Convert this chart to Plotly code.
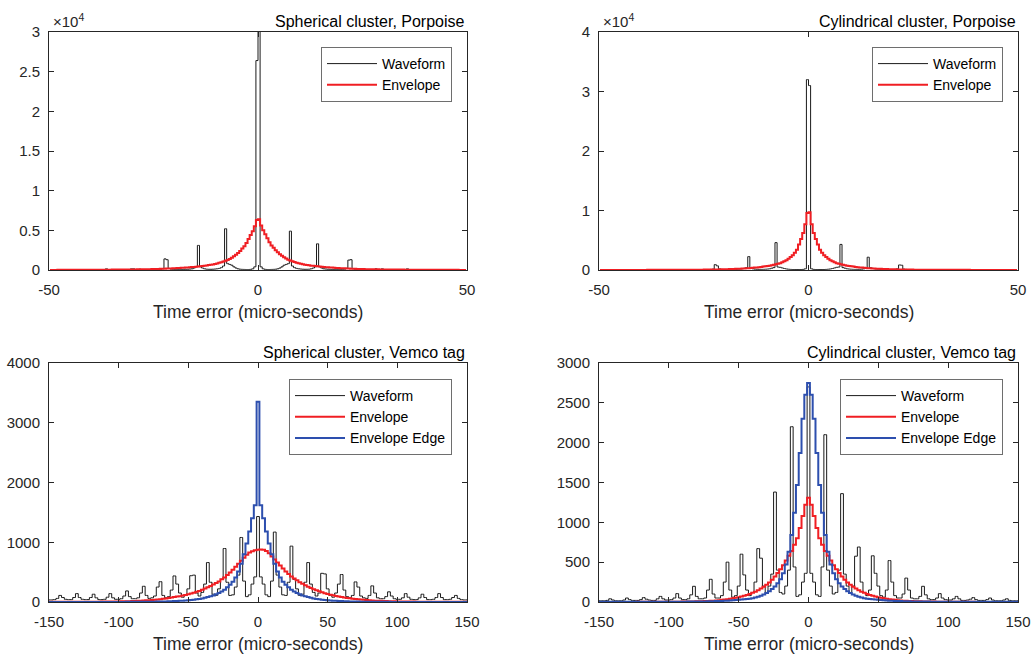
import numpy as np
import plotly.graph_objects as go

# ---------------- data ----------------
# Top row: 0.5 us bins, centres -49.75 .. 49.75
x_top = np.arange(-49.75, 50, 0.5)

sph_porp_wave = [
    10, 10, 10, 10, 10, 10, 10, 10, 10, 10,
    10, 10, 10, 10, 15, 15, 15, 15, 15, 15,
    20, 20, 20, 20, 20, 20, 20, 150, 20, 20,
    25, 25, 25, 25, 25, 25, 30, 30, 30, 150,
    150, 40, 40, 100, 40, 40, 45, 45, 50, 50,
    60, 70, 80, 100, 150, 1400, 1300, 200, 100, 80,
    60, 60, 70, 70, 80, 90, 100, 120, 150, 250,
    400, 3100, 400, 250, 150, 100, 90, 90, 100, 120,
    150, 200, 300, 500, 5200, 800, 700, 600, 400, 250,
    150, 100, 80, 70, 60, 60, 80, 150, 400, 26400,
    30500, 400, 150, 80, 60, 60, 70, 80, 100, 150,
    250, 400, 600, 700, 800, 4900, 500, 300, 200, 150,
    120, 100, 90, 90, 100, 150, 250, 400, 3300, 400,
    250, 150, 120, 100, 90, 80, 70, 70, 60, 60,
    80, 100, 200, 1250, 1300, 150, 100, 80, 70, 60,
    50, 50, 50, 50, 45, 45, 150, 45, 40, 150,
    30, 30, 30, 25, 25, 25, 25, 25, 25, 25,
    20, 150, 20, 20, 20, 20, 20, 20, 20, 20,
    15, 15, 15, 15, 15, 15, 10, 10, 10, 10,
    10, 10, 10, 10, 10, 10, 10, 10, 10, 10,
]
sph_porp_env = [
    12, 13, 14, 15, 16, 17, 18, 19, 20, 21,
    22, 23, 24, 25, 26, 27, 28, 29, 30, 31,
    32, 33, 34, 35, 36, 38, 40, 42, 44, 46,
    48, 50, 52, 54, 56, 58, 60, 62, 65, 68,
    72, 76, 80, 85, 90, 95, 100, 105, 110, 115,
    118, 126, 135, 145, 155, 165, 175, 185, 198, 212,
    225, 240, 255, 270, 290, 310, 330, 350, 370, 390,
    420, 450, 480, 510, 540, 580, 620, 660, 700, 760,
    830, 900, 980, 1060, 1160, 1260, 1400, 1550, 1720, 1920,
    2150, 2400, 2700, 3000, 3400, 3900, 4400, 4900, 5500, 6300,
    6400, 5600, 5000, 4500, 4000, 3500, 3100, 2800, 2500, 2250,
    2000, 1800, 1600, 1450, 1300, 1200, 1100, 1000, 920, 850,
    780, 720, 670, 630, 590, 550, 520, 490, 460, 430,
    400, 380, 360, 340, 320, 300, 280, 265, 250, 235,
    220, 205, 190, 180, 170, 160, 150, 140, 130, 120,
    115, 110, 105, 100, 95, 90, 85, 80, 76, 72,
    68, 65, 62, 60, 58, 56, 54, 52, 50, 48,
    46, 44, 42, 40, 38, 36, 35, 34, 33, 32,
    31, 30, 29, 28, 27, 26, 25, 24, 23, 22,
    21, 20, 19, 18, 17, 16, 15, 14, 13, 12,
]
cyl_porp_wave = [
    10, 10, 10, 10, 10, 10, 10, 10, 10, 10,
    10, 10, 10, 10, 10, 10, 10, 10, 10, 10,
    15, 15, 15, 15, 15, 15, 15, 15, 15, 15,
    20, 20, 20, 20, 20, 20, 25, 25, 25, 25,
    30, 30, 30, 35, 35, 35, 40, 40, 45, 50,
    60, 70, 80, 100, 150, 900, 700, 200, 100, 80,
    70, 70, 80, 90, 100, 110, 130, 160, 200, 300,
    400, 2250, 300, 200, 150, 120, 100, 100, 110, 130,
    160, 200, 300, 400, 4600, 500, 450, 350, 250, 180,
    130, 100, 80, 70, 60, 60, 70, 100, 200, 32000,
    31000, 200, 100, 70, 60, 60, 70, 80, 100, 130,
    180, 250, 350, 450, 500, 4300, 400, 300, 200, 160,
    130, 110, 100, 100, 120, 150, 200, 300, 2150, 400,
    300, 200, 160, 130, 110, 100, 90, 80, 70, 70,
    80, 100, 200, 850, 800, 150, 100, 80, 70, 60,
    50, 45, 40, 40, 35, 35, 35, 30, 30, 30,
    25, 25, 25, 25, 20, 20, 20, 20, 20, 20,
    15, 15, 15, 15, 15, 15, 15, 15, 15, 15,
    10, 10, 10, 10, 10, 10, 10, 10, 10, 10,
    10, 10, 10, 10, 10, 10, 10, 10, 10, 10,
]
cyl_porp_env = [
    10, 10, 10, 10, 11, 11, 12, 12, 13, 13,
    14, 14, 15, 15, 16, 16, 17, 17, 18, 18,
    19, 20, 21, 22, 23, 24, 25, 26, 27, 28,
    29, 30, 31, 32, 33, 34, 35, 36, 37, 38,
    40, 42, 44, 46, 48, 50, 52, 55, 58, 60,
    65, 70, 75, 80, 85, 90, 95, 100, 110, 120,
    130, 140, 150, 165, 180, 195, 210, 230, 250, 270,
    290, 310, 340, 370, 400, 440, 480, 520, 570, 620,
    670, 730, 800, 870, 950, 1050, 1150, 1300, 1450, 1650,
    1900, 2200, 2500, 2900, 3400, 4300, 5200, 6200, 7700, 9600,
    9700, 7700, 6200, 5200, 4300, 3400, 2900, 2500, 2200, 1900,
    1650, 1450, 1300, 1150, 1050, 950, 870, 800, 730, 670,
    620, 570, 520, 480, 440, 400, 370, 340, 310, 290,
    270, 250, 230, 210, 195, 180, 165, 150, 140, 130,
    120, 110, 100, 95, 90, 85, 80, 75, 70, 65,
    60, 58, 55, 52, 50, 48, 46, 44, 42, 40,
    38, 37, 36, 35, 34, 33, 32, 31, 30, 29,
    28, 27, 26, 25, 24, 23, 22, 21, 20, 19,
    18, 18, 17, 17, 16, 16, 15, 15, 14, 14,
    13, 13, 12, 12, 11, 11, 10, 10, 10, 10,
]

# Bottom row: 2 us bins, centres -150 .. 150
x_bot = np.arange(-150, 151, 2)

sph_vem_wave = [
    35, 35, 40, 60, 110, 75, 45, 40, 40, 75,
    140, 75, 45, 40, 40, 75, 130, 70, 40, 40,
    45, 80, 140, 70, 45, 45, 55, 100, 185, 90,
    55, 55, 70, 150, 263, 110, 60, 70, 100, 250,
    340, 110, 70, 90, 200, 436, 300, 150, 80, 110,
    220, 440, 450, 150, 100, 160, 300, 660, 330, 130,
    110, 220, 380, 895, 330, 110, 120, 250, 450, 1080,
    350, 90, 120, 300, 420, 1430, 420, 300, 120, 90,
    350, 1170, 450, 250, 120, 110, 330, 935, 380, 220,
    110, 130, 330, 660, 300, 160, 100, 150, 480, 470,
    220, 110, 80, 150, 300, 460, 200, 90, 70, 110,
    336, 250, 100, 70, 60, 110, 270, 150, 70, 55,
    55, 90, 170, 100, 55, 45, 45, 70, 140, 80,
    45, 40, 40, 70, 130, 75, 40, 40, 45, 75,
    140, 75, 40, 40, 45, 75, 110, 60, 40, 35,
    35,
]
sph_vem_env = [
    3, 3, 3, 3, 3, 3, 3, 4, 4, 4,
    4, 4, 5, 5, 5, 5, 6, 6, 6, 7,
    7, 8, 8, 9, 9, 10, 11, 12, 13, 14,
    16, 18, 20, 22, 25, 28, 31, 35, 39, 43,
    48, 54, 60, 66, 74, 82, 90, 98, 108, 118,
    130, 142, 156, 170, 185, 205, 225, 245, 268, 292,
    318, 345, 380, 410, 450, 495, 540, 590, 640, 690,
    740, 790, 830, 850, 865, 875, 880, 875, 855, 815,
    760, 710, 660, 610, 560, 510, 468, 428, 395, 362,
    332, 305, 280, 255, 235, 215, 195, 178, 162, 148,
    135, 122, 112, 102, 92, 84, 76, 68, 61, 55,
    49, 44, 40, 36, 32, 29, 26, 23, 21, 19,
    17, 15, 14, 12, 11, 10, 9, 9, 8, 8,
    7, 7, 6, 6, 6, 5, 5, 5, 5, 4,
    4, 4, 4, 4, 3, 3, 3, 3, 3, 3,
    3,
]
sph_vem_edge = [
    1, 1, 1, 1, 1, 1, 1, 1, 1, 1,
    1, 1, 1, 1, 1, 2, 2, 2, 2, 2,
    2, 2, 2, 2, 2, 2, 2, 2, 3, 3,
    3, 3, 4, 4, 4, 5, 5, 6, 6, 7,
    8, 9, 10, 11, 13, 15, 17, 19, 22, 25,
    29, 34, 39, 45, 52, 60, 70, 82, 95, 110,
    128, 150, 175, 205, 245, 290, 340, 410, 510, 640,
    800, 980, 1180, 1400, 1620, 3350, 1620, 1400, 1180, 980,
    800, 640, 510, 410, 340, 290, 245, 205, 175, 150,
    128, 110, 95, 82, 70, 60, 52, 45, 39, 34,
    29, 25, 22, 19, 17, 15, 13, 11, 10, 9,
    8, 7, 6, 6, 5, 5, 4, 4, 4, 3,
    3, 3, 3, 2, 2, 2, 2, 2, 2, 2,
    2, 2, 2, 2, 2, 1, 1, 1, 1, 1,
    1, 1, 1, 1, 1, 1, 1, 1, 1, 1,
    1,
]
cyl_vem_wave = [
    15, 15, 15, 20, 40, 25, 15, 15, 15, 25,
    50, 30, 20, 20, 20, 30, 55, 35, 25, 20,
    20, 40, 70, 40, 25, 25, 30, 50, 105, 50,
    30, 30, 40, 90, 197, 70, 40, 40, 50, 150,
    285, 100, 50, 50, 80, 250, 500, 150, 60, 80,
    200, 600, 340, 150, 80, 120, 250, 670, 550, 200,
    120, 200, 350, 1380, 400, 120, 100, 200, 400, 2200,
    440, 70, 90, 250, 360, 2700, 360, 250, 90, 70,
    440, 2100, 400, 200, 100, 120, 400, 1360, 350, 200,
    120, 200, 575, 690, 250, 120, 80, 150, 580, 360,
    200, 80, 60, 150, 520, 250, 80, 50, 50, 100,
    300, 150, 50, 40, 40, 70, 197, 90, 40, 30,
    30, 50, 105, 50, 30, 25, 25, 40, 70, 40,
    20, 20, 25, 35, 55, 30, 20, 20, 20, 30,
    50, 25, 15, 15, 15, 25, 40, 20, 15, 15,
    15,
]
cyl_vem_env = [
    1, 1, 1, 1, 1, 1, 1, 1, 1, 1,
    1, 1, 1, 1, 2, 2, 2, 2, 2, 2,
    2, 2, 2, 3, 3, 3, 3, 4, 4, 4,
    5, 5, 6, 6, 7, 8, 9, 10, 11, 13,
    15, 17, 20, 23, 27, 31, 36, 41, 47, 53,
    61, 69, 78, 88, 100, 115, 130, 148, 168, 190,
    215, 245, 280, 320, 365, 410, 460, 520, 580, 640,
    720, 800, 930, 1080, 1220, 1310, 1220, 1080, 930, 800,
    720, 640, 580, 520, 460, 410, 365, 320, 280, 245,
    215, 190, 168, 148, 130, 115, 100, 88, 78, 69,
    61, 53, 47, 41, 36, 31, 27, 23, 20, 17,
    15, 13, 11, 10, 9, 8, 7, 6, 6, 5,
    5, 4, 4, 4, 3, 3, 3, 3, 2, 2,
    2, 2, 2, 2, 2, 1, 1, 1, 1, 1,
    1, 1, 1, 1, 1, 1, 1, 1, 1, 1,
    1,
]
cyl_vem_edge = [
    2, 2, 2, 2, 2, 2, 2, 2, 2, 2,
    2, 2, 2, 2, 2, 3, 3, 3, 3, 3,
    3, 3, 3, 3, 3, 3, 3, 3, 4, 4,
    4, 4, 5, 5, 5, 6, 6, 7, 7, 8,
    9, 10, 11, 12, 13, 15, 17, 19, 21, 24,
    27, 30, 33, 37, 42, 48, 56, 66, 78, 93,
    112, 135, 162, 195, 235, 285, 360, 470, 630, 840,
    1120, 1470, 1870, 2300, 2600, 2750, 2600, 2300, 1870, 1470,
    1120, 840, 630, 470, 360, 285, 235, 195, 162, 135,
    112, 93, 78, 66, 56, 48, 42, 37, 33, 30,
    27, 24, 21, 19, 17, 15, 13, 12, 11, 10,
    9, 8, 7, 7, 6, 6, 5, 5, 5, 4,
    4, 4, 4, 3, 3, 3, 3, 3, 3, 3,
    3, 3, 3, 3, 2, 2, 2, 2, 2, 2,
    2, 2, 2, 2, 2, 2, 2, 2, 2, 2,
    2,
]

titles = ["Spherical cluster, Porpoise", "Cylindrical cluster, Porpoise",
          "Spherical cluster, Vemco tag", "Cylindrical cluster, Vemco tag"]
xlabel = "Time error (micro-seconds)"
top_xticks = [-50, 0, 50]
bot_xticks = [-150, -100, -50, 0, 50, 100, 150]
p1_yticks = [0, 5000, 10000, 15000, 20000, 25000, 30000]
p1_ytext = ["0", "0.5", "1", "1.5", "2", "2.5", "3"]
p2_yticks = [0, 10000, 20000, 30000, 40000]
p2_ytext = ["0", "1", "2", "3", "4"]
p3_yticks = [0, 1000, 2000, 3000, 4000]
p4_yticks = [0, 500, 1000, 1500, 2000, 2500, 3000]

# ---------------- figure ----------------
W, H = 1034, 655
FONT = "Liberation Sans, Arial, Helvetica, sans-serif"
TXT = "#262626"
BLACK = "#1a1a1a"
RED = "#f01e23"
BLUE = "#2d4fae"

def px_x(p):
    return p / W

def px_y(p):
    return 1 - p / H

col_px = [(49, 467), (599, 1018)]
row_px = [(32, 270), (363, 602)]

fig = go.Figure()

panels = [
    (x_top, [(sph_porp_wave, "Waveform", BLACK, 1), (sph_porp_env, "Envelope", RED, 2)]),
    (x_top, [(cyl_porp_wave, "Waveform", BLACK, 1), (cyl_porp_env, "Envelope", RED, 2)]),
    (x_bot, [(sph_vem_wave, "Waveform", BLACK, 1), (sph_vem_env, "Envelope", RED, 2),
             (sph_vem_edge, "Envelope Edge", BLUE, 2)]),
    (x_bot, [(cyl_vem_wave, "Waveform", BLACK, 1), (cyl_vem_env, "Envelope", RED, 2),
             (cyl_vem_edge, "Envelope Edge", BLUE, 2)]),
]

for i, (xs, series) in enumerate(panels):
    k = i + 1
    xa = "x" if k == 1 else f"x{k}"
    ya = "y" if k == 1 else f"y{k}"
    lg = "legend" if k == 1 else f"legend{k}"
    for vals, name, color, w in series:
        fig.add_trace(go.Scatter(
            x=xs, y=vals, mode="lines", name=name,
            line=dict(color=color, width=w, shape="hvh"),
            xaxis=xa, yaxis=ya, legend=lg, hoverinfo="skip"))

def axis_common():
    return dict(showline=True, linecolor=TXT, linewidth=1, mirror="ticks",
                ticks="inside", ticklen=5, tickcolor=TXT, tickwidth=1,
                tickfont=dict(family=FONT, size=15, color=TXT),
                showgrid=False, zeroline=False, fixedrange=True, automargin=False)

layout = dict(width=W, height=H, margin=dict(l=0, r=0, t=0, b=0, pad=0, autoexpand=False),
              paper_bgcolor="white", plot_bgcolor="white",
              font=dict(family=FONT, color=TXT))

ranges = [([-50, 50], [0, 30000], top_xticks, (p1_yticks, p1_ytext)),
          ([-50, 50], [0, 40000], top_xticks, (p2_yticks, p2_ytext)),
          ([-150, 150], [0, 4000], bot_xticks, (p3_yticks, [str(v) for v in p3_yticks])),
          ([-150, 150], [0, 3000], bot_xticks, (p4_yticks, [str(v) for v in p4_yticks]))]

annotations = []
for i, (xr, yr, xt, (yt, ytt)) in enumerate(ranges):
    k = i + 1
    c = col_px[i % 2]
    r = row_px[i // 2]
    xname = "xaxis" if k == 1 else f"xaxis{k}"
    yname = "yaxis" if k == 1 else f"yaxis{k}"
    ax = axis_common()
    ax.update(domain=[px_x(c[0]), px_x(c[1])], range=xr, tickvals=xt,
              ticktext=[str(v) for v in xt],
              anchor="y" if k == 1 else f"y{k}", ticklabelstandoff=6)
    ay = axis_common()
    ay.update(domain=[px_y(r[1]), px_y(r[0])], range=yr, tickvals=yt, ticktext=ytt,
              anchor="x" if k == 1 else f"x{k}", ticklabelstandoff=5)
    layout[xname] = ax
    layout[yname] = ay
    # panel title (right aligned above the box)
    annotations.append(dict(text=titles[i], x=px_x(c[1]), y=px_y(r[0]), xref="paper", yref="paper",
                            xanchor="right", yanchor="bottom", showarrow=False, yshift=0,
                            font=dict(family=FONT, size=16, color="#000000")))
    # x axis label
    annotations.append(dict(text=xlabel, x=px_x((c[0] + c[1]) / 2), y=px_y(r[1] + 42),
                            xref="paper", yref="paper", xanchor="center", yanchor="middle",
                            showarrow=False, font=dict(family=FONT, size=17.5, color=TXT)))
    if k <= 2:
        annotations.append(dict(text="×10<sup>4</sup>", x=px_x(c[0] + 2), y=px_y(r[0]),
                                xref="paper", yref="paper", xanchor="left", yanchor="bottom",
                                showarrow=False, font=dict(family=FONT, size=15, color=TXT)))

layout["annotations"] = annotations

def legend_box(right_px, top_px):
    return dict(x=px_x(right_px), y=px_y(top_px), xanchor="right", yanchor="top",
                xref="paper", yref="paper",
                bgcolor="white", bordercolor="#6e6e6e", borderwidth=1,
                font=dict(family=FONT, size=14, color="#000000"),
                itemwidth=50,
                tracegroupgap=0, itemclick=False, itemdoubleclick=False)

layout["legend"] = legend_box(452, 47)
layout["legend2"] = legend_box(1003, 47)
layout["legend3"] = legend_box(452, 379)
layout["legend4"] = legend_box(1003, 379)
layout["showlegend"] = True

fig.update_layout(**layout)

fig.write_html("out.html", config={"displayModeBar": False},
               post_script="document.body.style.margin='0';")
